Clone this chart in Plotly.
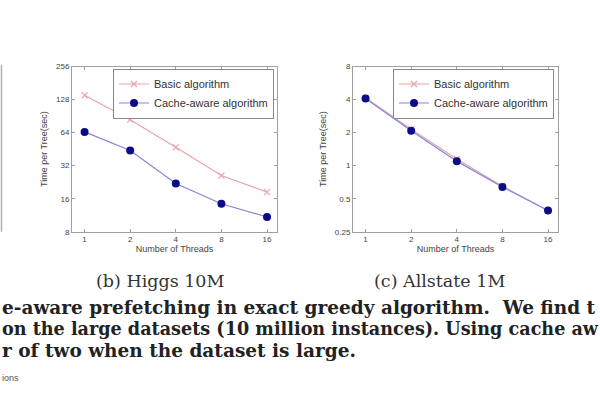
import plotly.graph_objects as go

threads = [1, 2, 4, 8, 16]
thread_labels = ["1", "2", "4", "8", "16"]

higgs_basic = [140, 84, 47, 26, 18.4]
higgs_cache = [65, 44, 22, 14.4, 10.9]
higgs_yticks = [8, 16, 32, 64, 128, 256]

allstate_basic = [4.15, 2.15, 1.15, 0.65, 0.39]
allstate_cache = [4.1, 2.08, 1.1, 0.64, 0.39]
allstate_yticks = [0.25, 0.5, 1, 2, 4, 8]
allstate_ylabels = ["0.25", "0.5", "1", "2", "4", "8"]

series_names = ["Basic algorithm", "Cache-aware algorithm"]
sub_captions = ["(b) Higgs 10M", "(c) Allstate 1M"]
caption_lines = [
    "e-aware prefetching in exact greedy algorithm.  We find t",
    "on the large datasets (10 million instances). Using cache aw",
    "r of two when the dataset is large.",
]
caption_sizes = [18.5, 17.6, 18.5]

W, H = 600, 400
basic_color = "#e9a3a8"
cache_line = "#8585dd"
cache_marker = "#0c0c88"
axis_col = "#a0a0a0"

fig = go.Figure()

def add_panel(idx, basic, cache, legend):
    xa = "x" if idx == 1 else "x2"
    ya = "y" if idx == 1 else "y2"
    fig.add_trace(go.Scatter(
        x=threads, y=basic, name=series_names[0], mode="lines+markers",
        line=dict(color=basic_color, width=1.2),
        marker=dict(symbol="x-thin", size=6, line=dict(color=basic_color, width=1.2)),
        xaxis=xa, yaxis=ya, legend=legend))
    fig.add_trace(go.Scatter(
        x=threads, y=cache, name=series_names[1], mode="lines+markers",
        line=dict(color=cache_line, width=1.2),
        marker=dict(symbol="circle", size=8, color=cache_marker),
        xaxis=xa, yaxis=ya, legend=legend))

add_panel(1, higgs_basic, higgs_cache, "legend")
add_panel(2, allstate_basic, allstate_cache, "legend2")

def px_x(p):
    return p / W

def px_y(p):
    return 1 - p / H

common_x = dict(type="log", range=[-0.083, 1.27], tickvals=threads, ticktext=thread_labels,
                showline=True, linecolor=axis_col, mirror="ticks", ticks="inside", ticklen=3,
                tickcolor=axis_col, showgrid=False, zeroline=False,
                tickfont=dict(family="Arial", size=8, color="#444"),
                title=dict(text="Number of Threads", font=dict(family="Arial", size=9, color="#444"), standoff=2))
common_y = dict(type="log", showline=True, linecolor=axis_col, mirror="ticks", ticks="inside",
                ticklen=3, tickcolor=axis_col, showgrid=False, zeroline=False,
                tickfont=dict(family="Arial", size=8, color="#444"),
                title=dict(text="Time per Tree(sec)", font=dict(family="Arial", size=9, color="#444"), standoff=6))

leg_common = dict(xanchor="left", yanchor="top", bordercolor="#888", borderwidth=1, bgcolor="white",
                  font=dict(family="Arial", size=11, color="#333"), tracegroupgap=0)

fig.update_layout(
    width=W, height=H, margin=dict(l=0, r=0, t=0, b=0),
    paper_bgcolor="white", plot_bgcolor="white",
    xaxis=dict(domain=[px_x(72), px_x(277)], anchor="y", **common_x),
    yaxis=dict(domain=[px_y(233), px_y(64)], anchor="x", range=[0.90309, 2.40824],
               tickvals=higgs_yticks, ticktext=[str(v) for v in higgs_yticks], **common_y),
    xaxis2=dict(domain=[px_x(353), px_x(558)], anchor="y2", **common_x),
    yaxis2=dict(domain=[px_y(233), px_y(64)], anchor="x2", range=[-0.60206, 0.90309],
                tickvals=allstate_yticks, ticktext=allstate_ylabels, **common_y),
    legend=dict(x=px_x(113), y=px_y(66), **leg_common),
    legend2=dict(x=px_x(393), y=px_y(66), **leg_common),
    showlegend=True,
)

for txt, cx in zip(sub_captions, [160, 440]):
    fig.add_annotation(text=txt, x=px_x(cx), y=px_y(283), xref="paper", yref="paper",
                       showarrow=False, xanchor="center", yanchor="middle",
                       font=dict(family="DejaVu Serif", size=17.5, color="#333"))

for i, (line, sz) in enumerate(zip(caption_lines, caption_sizes)):
    fig.add_annotation(text="<b>" + line + "</b>", x=0, y=px_y(310 + 22 * i), xref="paper", yref="paper",
                       showarrow=False, xanchor="left", yanchor="middle",
                       font=dict(family="DejaVu Serif", size=sz, color="#222"))

fig.add_annotation(text="ions", x=0, y=px_y(383), xref="paper", yref="paper", showarrow=False,
                   xanchor="left", yanchor="middle", font=dict(family="Arial", size=9, color="#555"))

# edge of neighbouring panel on the left
fig.add_shape(type="line", xref="paper", yref="paper", x0=px_x(1.5), x1=px_x(1.5),
              y0=px_y(233), y1=px_y(62), line=dict(color="#b0b0b0", width=1.5))

fig.write_html("out.html")
